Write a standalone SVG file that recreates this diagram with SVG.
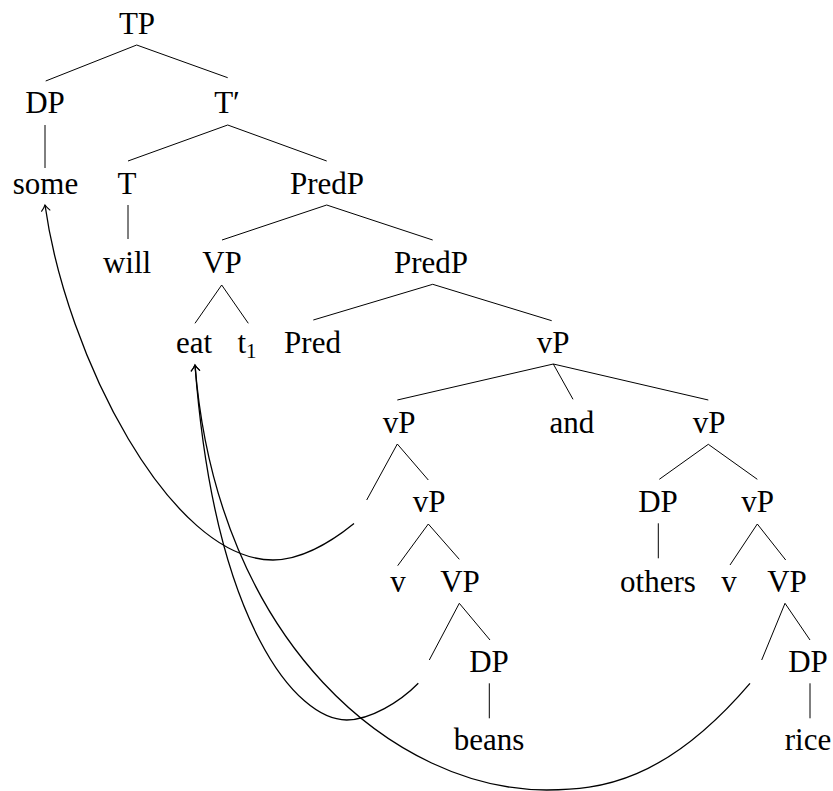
<svg xmlns="http://www.w3.org/2000/svg" width="833" height="791" viewBox="0 0 833 791">
<style>
  text { font-size: 31px; fill: #000; text-anchor: middle; }
  .e line { stroke: #000; stroke-width: 1; }
  .mv { fill: none; stroke: #000; stroke-width: 1.3; marker-end: url(#arr); }
</style>
<defs>
  <marker id="arr" markerUnits="userSpaceOnUse" viewBox="-8 -6 10 12" markerWidth="10" markerHeight="12" refX="0" refY="0" orient="auto">
    <path d="M-6,-4.5 Q-2.5,-1.2 0,0 Q-2.5,1.2 -6,4.5" fill="none" stroke="#000" stroke-width="1.1"/>
  </marker>
</defs>
<rect width="833" height="791" fill="#fff"/>
<g id="connectors" class="e">
  <line x1="136.7" y1="45" x2="45.7" y2="81"/>
  <line x1="136.7" y1="45" x2="227.7" y2="77.7"/>
  <line x1="45" y1="125" x2="45" y2="168"/>
  <line x1="227.7" y1="125" x2="128" y2="161"/>
  <line x1="227.7" y1="125" x2="326.7" y2="161"/>
  <line x1="128" y1="205" x2="128" y2="239"/>
  <line x1="326.7" y1="205" x2="222" y2="240"/>
  <line x1="326.7" y1="205" x2="432.7" y2="240"/>
  <line x1="221.7" y1="285" x2="195" y2="323.3"/>
  <line x1="221.7" y1="285" x2="248.3" y2="323.3"/>
  <line x1="432.7" y1="284.3" x2="313.3" y2="320"/>
  <line x1="432.7" y1="284.3" x2="551.7" y2="320.7"/>
  <line x1="553.3" y1="364" x2="397.3" y2="400"/>
  <line x1="553.3" y1="364" x2="573" y2="399.3"/>
  <line x1="553.3" y1="364" x2="708.3" y2="400"/>
  <line x1="397.3" y1="444" x2="366.7" y2="500"/>
  <line x1="397.3" y1="444" x2="428.3" y2="480"/>
  <line x1="428.3" y1="524" x2="397.7" y2="565.7"/>
  <line x1="428.3" y1="524" x2="459.3" y2="559.3"/>
  <line x1="708.3" y1="444.3" x2="659.3" y2="479.3"/>
  <line x1="708.3" y1="444.3" x2="757.3" y2="479.3"/>
  <line x1="658.3" y1="523.3" x2="658.3" y2="558.3"/>
  <line x1="757.3" y1="524" x2="730" y2="565"/>
  <line x1="757.3" y1="524" x2="785.7" y2="560"/>
  <line x1="459.3" y1="603.3" x2="429.3" y2="660"/>
  <line x1="459.3" y1="603.3" x2="490" y2="640"/>
  <line x1="489.3" y1="683.3" x2="489.3" y2="718.3"/>
  <line x1="785" y1="603.3" x2="761.7" y2="660"/>
  <line x1="785" y1="603.3" x2="810" y2="640"/>
  <line x1="810" y1="683.3" x2="810" y2="718.3"/>
  <path class="mv" d="M354,523.5 C330,543 300,560 273,560 C170,560 66,355 45,205"/>
  <path class="mv" d="M418.3,683.3 C400,702 370,720 346.7,720 C296.7,720 214.8,625 195,365"/>
  <path class="mv" d="M750,683.3 C665.5,782 600,790 546.7,790 C396.7,790 217.4,645 195,365"/>
</g>
<g id="nodes" font-family="Liberation Serif, serif">
<g id="n-TP"><text x="137" y="34">TP</text></g>
<g id="n-DP1"><text x="45" y="113">DP</text></g>
<g id="n-Tbar"><text x="227" y="113">T′</text></g>
<g id="n-some"><text x="45.5" y="194">some</text></g>
<g id="n-T"><text x="127" y="194">T</text></g>
<g id="n-PredP1"><text x="327" y="194">PredP</text></g>
<g id="n-will"><text x="127" y="273">will</text></g>
<g id="n-VP1"><text x="222" y="273">VP</text></g>
<g id="n-PredP2"><text x="431" y="273">PredP</text></g>
<g id="n-eat"><text x="194" y="353">eat</text></g>
<g id="n-t1"><text x="247" y="353">t<tspan font-size="21" dy="5">1</tspan></text></g>
<g id="n-Pred"><text x="312.5" y="353">Pred</text></g>
<g id="n-vP1"><text x="553" y="353">vP</text></g>
<g id="n-vP2"><text x="399" y="433">vP</text></g>
<g id="n-and"><text x="572" y="433">and</text></g>
<g id="n-vP3"><text x="709" y="433">vP</text></g>
<g id="n-vP4"><text x="429" y="512">vP</text></g>
<g id="n-DP2"><text x="658" y="512">DP</text></g>
<g id="n-vP5"><text x="757.5" y="512">vP</text></g>
<g id="n-v1"><text x="398" y="592">v</text></g>
<g id="n-VP2"><text x="460" y="592">VP</text></g>
<g id="n-others"><text x="658" y="592">others</text></g>
<g id="n-v2"><text x="729" y="592">v</text></g>
<g id="n-VP3"><text x="787" y="592">VP</text></g>
<g id="n-DP3"><text x="489" y="672">DP</text></g>
<g id="n-DP4"><text x="808" y="672">DP</text></g>
<g id="n-beans"><text x="489" y="750">beans</text></g>
<g id="n-rice"><text x="808" y="750">rice</text></g>
</g>
</svg>
